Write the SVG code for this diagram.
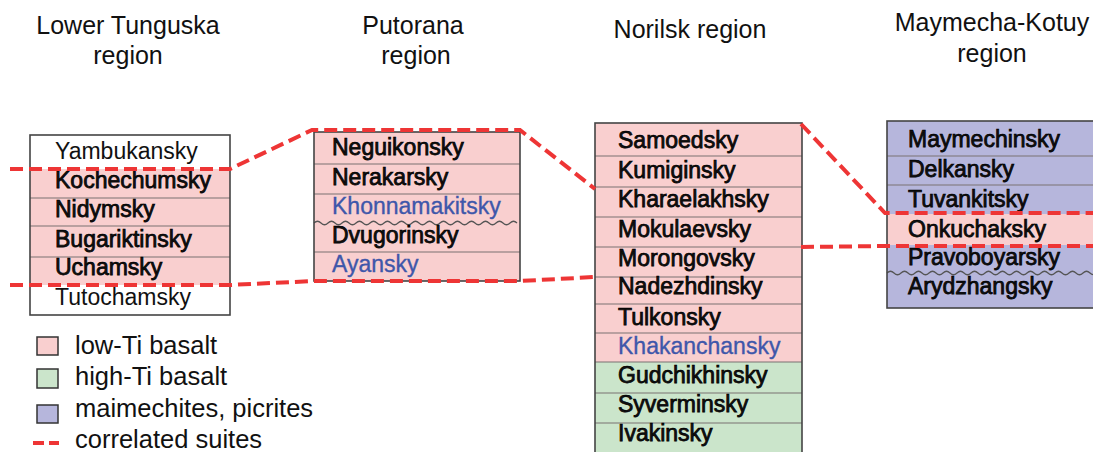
<svg xmlns="http://www.w3.org/2000/svg" width="1093" height="452" viewBox="0 0 1093 452">
<style>
.title{font-family:"Liberation Sans",Arial,sans-serif;font-size:25px;fill:#111;text-anchor:middle}
.t{font-family:"Liberation Sans",Arial,sans-serif;font-size:23px;fill:#111}
.h{stroke:#000;stroke-width:0.75}
.blue{fill:#3f57aa;stroke:#3f57aa;stroke-width:0.35}
.pink{fill:#f9cfcf}
.green{fill:#cbe5cb}
.purple{fill:#b6b6dc}
.row{stroke:#7a7272;stroke-width:1.2;fill:none}
.border{fill:none;stroke:#444;stroke-width:1.6}
.wave{fill:none;stroke:#555;stroke-width:1.2}
.corr{fill:none;stroke:#ee3535;stroke-width:4;stroke-dasharray:13 6}
.lg{font-family:"Liberation Sans",Arial,sans-serif;font-size:25.5px;fill:#111}
.sw{stroke:#333;stroke-width:1.5}
</style>

<g id="titles">
<text class="title" x="128" y="34">Lower Tunguska</text>
<text class="title" x="128" y="64">region</text>
<text class="title" x="413" y="34">Putorana</text>
<text class="title" x="416" y="64">region</text>
<text class="title" x="690" y="38">Norilsk region</text>
<text class="title" x="992" y="31">Maymecha-Kotuy</text>
<text class="title" x="992" y="62">region</text>
</g>

<g id="lower-tunguska">
<rect x="30" y="169" width="200" height="116" class="pink"/>
<path class="row" d="M30,198H230M30,226H230M30,257H230"/>
<rect x="30" y="135" width="200" height="180" class="border"/>
<g id="yambukansky"><text class="t" x="55" y="159">Yambukansky</text></g>
<g id="kochechumsky"><text class="t h" x="55" y="188">Kochechumsky</text></g>
<g id="nidymsky"><text class="t h" x="55" y="217">Nidymsky</text></g>
<g id="bugariktinsky"><text class="t h" x="55" y="247">Bugariktinsky</text></g>
<g id="uchamsky"><text class="t h" x="55" y="275">Uchamsky</text></g>
<g id="tutochamsky"><text class="t" x="55" y="305">Tutochamsky</text></g>
</g>

<g id="putorana">
<rect x="314" y="132" width="206" height="149" class="pink"/>
<path class="row" d="M314,164H520M314,194H520M314,252H520"/>
<path class="wave" d="M314,223q3.5,-3.5 7,0t7,0t7,0t7,0t7,0t7,0t7,0t7,0t7,0t7,0t7,0t7,0t7,0t7,0t7,0t7,0t7,0t7,0t7,0t7,0t7,0t7,0t7,0t7,0t7,0t7,0t7,0t7,0t7,0"/>
<rect x="314" y="132" width="206" height="149" class="border"/>
<g id="neguikonsky"><text class="t h" x="332" y="155">Neguikonsky</text></g>
<g id="nerakarsky"><text class="t h" x="332" y="185">Nerakarsky</text></g>
<g id="khonnamakitsky"><text class="t blue" x="332" y="214">Khonnamakitsky</text></g>
<g id="dvugorinsky"><text class="t h" x="332" y="243">Dvugorinsky</text></g>
<g id="ayansky"><text class="t blue" x="332" y="272">Ayansky</text></g>
</g>

<g id="norilsk">
<rect x="595" y="123" width="207" height="239" class="pink"/>
<rect x="595" y="362" width="207" height="100" class="green"/>
<path class="row" d="M595,156H802M595,187H802M595,217H802M595,247H802M595,277H802M595,304H802M595,333H802M595,362H802M595,393H802M595,423H802"/>
<rect x="595" y="123" width="207" height="340" class="border"/>
<g id="samoedsky"><text class="t h" x="618" y="148">Samoedsky</text></g>
<g id="kumiginsky"><text class="t h" x="618" y="178">Kumiginsky</text></g>
<g id="kharaelakhsky"><text class="t h" x="618" y="207">Kharaelakhsky</text></g>
<g id="mokulaevsky"><text class="t h" x="618" y="237">Mokulaevsky</text></g>
<g id="morongovsky"><text class="t h" x="618" y="266">Morongovsky</text></g>
<g id="nadezhdinsky"><text class="t h" x="618" y="294">Nadezhdinsky</text></g>
<g id="tulkonsky"><text class="t h" x="618" y="325">Tulkonsky</text></g>
<g id="khakanchansky"><text class="t blue" x="618" y="354">Khakanchansky</text></g>
<g id="gudchikhinsky"><text class="t h" x="618" y="383">Gudchikhinsky</text></g>
<g id="syverminsky"><text class="t h" x="618" y="412">Syverminsky</text></g>
<g id="ivakinsky"><text class="t h" x="618" y="441">Ivakinsky</text></g>
</g>

<g id="maymecha-kotuy">
<rect x="887" y="121" width="213" height="187" class="purple"/>
<rect x="887" y="214" width="213" height="31" class="pink"/>
<path class="row" d="M887,156H1100M887,185H1100"/>
<path class="wave" d="M887,273q3.5,-3.5 7,0t7,0t7,0t7,0t7,0t7,0t7,0t7,0t7,0t7,0t7,0t7,0t7,0t7,0t7,0t7,0t7,0t7,0t7,0t7,0t7,0t7,0t7,0t7,0t7,0t7,0t7,0t7,0t7,0t7,0"/>
<rect x="887" y="121" width="213" height="187" class="border"/>
<g id="maymechinsky"><text class="t h" x="908" y="147">Maymechinsky</text></g>
<g id="delkansky"><text class="t h" x="908" y="177">Delkansky</text></g>
<g id="tuvankitsky"><text class="t h" x="908" y="207">Tuvankitsky</text></g>
<g id="onkuchaksky"><text class="t h" x="908" y="237">Onkuchaksky</text></g>
<g id="pravoboyarsky"><text class="t h" x="908" y="265">Pravoboyarsky</text></g>
<g id="arydzhangsky"><text class="t h" x="908" y="294">Arydzhangsky</text></g>
</g>

<g id="connectors">
<path class="corr" d="M10,169H230L312,130H520L595,189"/>
<path class="corr" d="M10,285H230L314,281H520L595,277"/>
<path class="corr" d="M801,124L885,213H1093"/>
<path class="corr" d="M801,247L887,246H1093"/>
</g>

<g id="legend">
<rect x="37" y="337" width="21" height="18" class="pink sw"/>
<rect x="37" y="369" width="21" height="19" class="green sw"/>
<rect x="37" y="405" width="21" height="18" class="purple sw"/>
<path d="M33,443H59" stroke="#ee3535" stroke-width="4" stroke-dasharray="11 5" fill="none"/>
<text class="lg" x="75" y="354">low-Ti basalt</text>
<text class="lg" x="75" y="385">high-Ti basalt</text>
<text class="lg" x="75" y="417">maimechites, picrites</text>
<text class="lg" x="75" y="448">correlated suites</text>
</g>
</svg>
